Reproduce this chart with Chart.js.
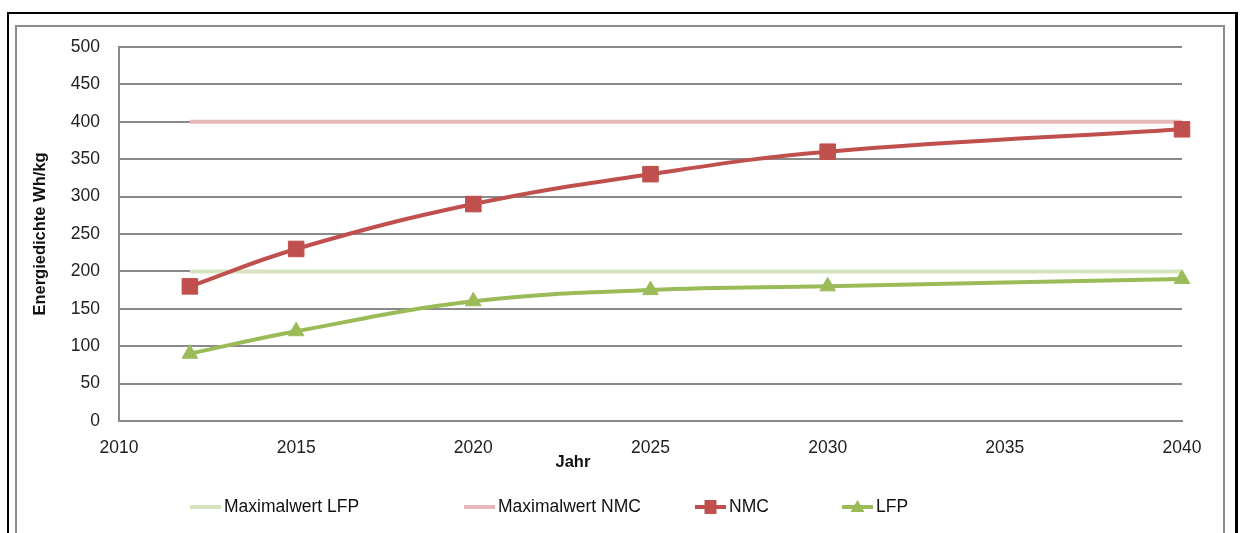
<!DOCTYPE html>
<html>
<head>
<meta charset="utf-8">
<title>Energiedichte</title>
<script src="https://cdn.jsdelivr.net/npm/chart.js@4/dist/chart.umd.min.js"></script>
<style>
  body { margin: 0; background: #fff; }
  #wrap { position: relative; width: 1240px; height: 533px; overflow: hidden; }
  .rahmen-aussen { position: absolute; left: 7px; top: 12px; width: 1226px; height: 600px; border: 2px solid #000; border-right-width: 3px; }
  .rahmen-innen { position: absolute; left: 15px; top: 25px; width: 1206px; height: 600px; border: 2px solid #8c8c8c; }
  canvas { position: absolute; left: 0; top: 0; }
</style>
</head>
<body>
<div id="wrap">
  <div class="rahmen-aussen"></div>
  <div class="rahmen-innen"></div>
  <canvas id="energie" width="1240" height="533"></canvas>
</div>
<script>
// Jahre der Stützpunkte
const jahre = [2012, 2015, 2020, 2025, 2030, 2040];
// Energiedichte in Wh/kg
const nmc = [180, 230, 290, 330, 360, 390];
const lfp = [90, 120, 160, 175, 180, 190];
// Maximalwerte (Start- und Endjahr)
const maxJahre = [2012, 2040];
const maxLfp = [200, 200];
const maxNmc = [400, 400];

const xTicks = [2010, 2015, 2020, 2025, 2030, 2035, 2040];
const yTicks = [0, 50, 100, 150, 200, 250, 300, 350, 400, 450, 500];

const punkte = (xs, ys) => xs.map((x, i) => ({ x: x, y: ys[i] }));

const schrift = 'Liberation Sans, Arial, sans-serif';
const gitterFarbe = '#8a8a8a';

// Legende unten, manuell gezeichnet (Linie + Markierung + Text)
const legendeX = [190, 464, 695, 842];
const legendePlugin = {
  id: 'legendeUnten',
  afterDraw(chart) {
    const ctx = chart.ctx;
    const y = 507;
    ctx.save();
    ctx.font = '17.5px ' + schrift;
    ctx.textBaseline = 'middle';
    chart.data.datasets.forEach((ds, i) => {
      const x = legendeX[i];
      ctx.strokeStyle = ds.borderColor;
      ctx.lineWidth = ds.borderWidth;
      ctx.beginPath();
      ctx.moveTo(x, y);
      ctx.lineTo(x + 31, y);
      ctx.stroke();
      const mx = x + 15.5;
      ctx.fillStyle = ds.pointBackgroundColor || ds.borderColor;
      if (ds.pointStyle === 'rect' && ds.pointRadius > 0) {
        ctx.fillRect(mx - 6, y - 7, 12, 14);
      } else if (ds.pointStyle === 'triangle' && ds.pointRadius > 0) {
        ctx.beginPath();
        ctx.moveTo(mx, y - 7);
        ctx.lineTo(mx + 7, y + 5);
        ctx.lineTo(mx - 7, y + 5);
        ctx.closePath();
        ctx.fill();
      }
      ctx.fillStyle = '#111';
      ctx.fillText(ds.label, x + 34, y);
    });
    // Achsentitel der x-Achse
    const xs = chart.scales.x;
    ctx.font = 'bold 16.5px ' + schrift;
    ctx.textAlign = 'center';
    ctx.fillText('Jahr', xs.left + (xs.right - xs.left) * 0.427, 462);
    ctx.restore();
  }
};

new Chart(document.getElementById('energie'), {
  type: 'line',
  data: {
    datasets: [
      {
        label: 'Maximalwert LFP',
        data: punkte(maxJahre, maxLfp),
        borderColor: '#d7e4bd',
        borderWidth: 4,
        pointRadius: 0,
        order: 4
      },
      {
        label: 'Maximalwert NMC',
        data: punkte(maxJahre, maxNmc),
        borderColor: '#e6b9b8',
        borderWidth: 4,
        pointRadius: 0,
        order: 3
      },
      {
        label: 'NMC',
        data: punkte(jahre, nmc),
        borderColor: '#c0504d',
        backgroundColor: '#c0504d',
        pointBackgroundColor: '#c0504d',
        pointBorderColor: '#c0504d',
        borderWidth: 4,
        pointStyle: 'rect',
        pointRadius: 11,
        pointBorderWidth: 1,
        tension: 0.4,
        clip: false,
        order: 2
      },
      {
        label: 'LFP',
        data: punkte(jahre, lfp),
        borderColor: '#9bbb59',
        backgroundColor: '#9bbb59',
        pointBackgroundColor: '#9bbb59',
        pointBorderColor: '#9bbb59',
        borderWidth: 4,
        pointStyle: 'triangle',
        pointRadius: 9,
        pointBorderWidth: 1,
        tension: 0.4,
        clip: false,
        order: 1
      }
    ]
  },
  options: {
    responsive: false,
    animation: false,
    layout: { padding: { top: 47, right: 58, left: 0, bottom: 0 } },
    plugins: {
      legend: { display: false },
      tooltip: { enabled: false }
    },
    scales: {
      x: {
        type: 'linear',
        min: 2010,
        max: 2040,
        afterFit: (s) => { s.height = 112; },
        afterBuildTicks: (s) => { s.ticks = xTicks.map(v => ({ value: v })); },
        grid: { display: false, drawTicks: false },
        border: { color: gitterFarbe, width: 2 },
        ticks: {
          padding: 17,
          color: '#222',
          font: { family: schrift, size: 17.5 },
          callback: (v) => String(v)
        }
      },
      y: {
        min: 0,
        max: 500,
        afterFit: (s) => { s.width = 119; },
        afterBuildTicks: (s) => { s.ticks = yTicks.map(v => ({ value: v })); },
        grid: { color: gitterFarbe, lineWidth: 2, drawTicks: false },
        border: { color: gitterFarbe, width: 2 },
        ticks: {
          padding: 19,
          color: '#222',
          font: { family: schrift, size: 17.5 }
        },
        title: {
          display: true,
          text: 'Energiedichte Wh/kg',
          color: '#111',
          font: { family: schrift, size: 16.5, weight: 'bold' },
          padding: { top: 31, bottom: 0 }
        }
      }
    }
  },
  plugins: [legendePlugin]
});
</script>
</body>
</html>
